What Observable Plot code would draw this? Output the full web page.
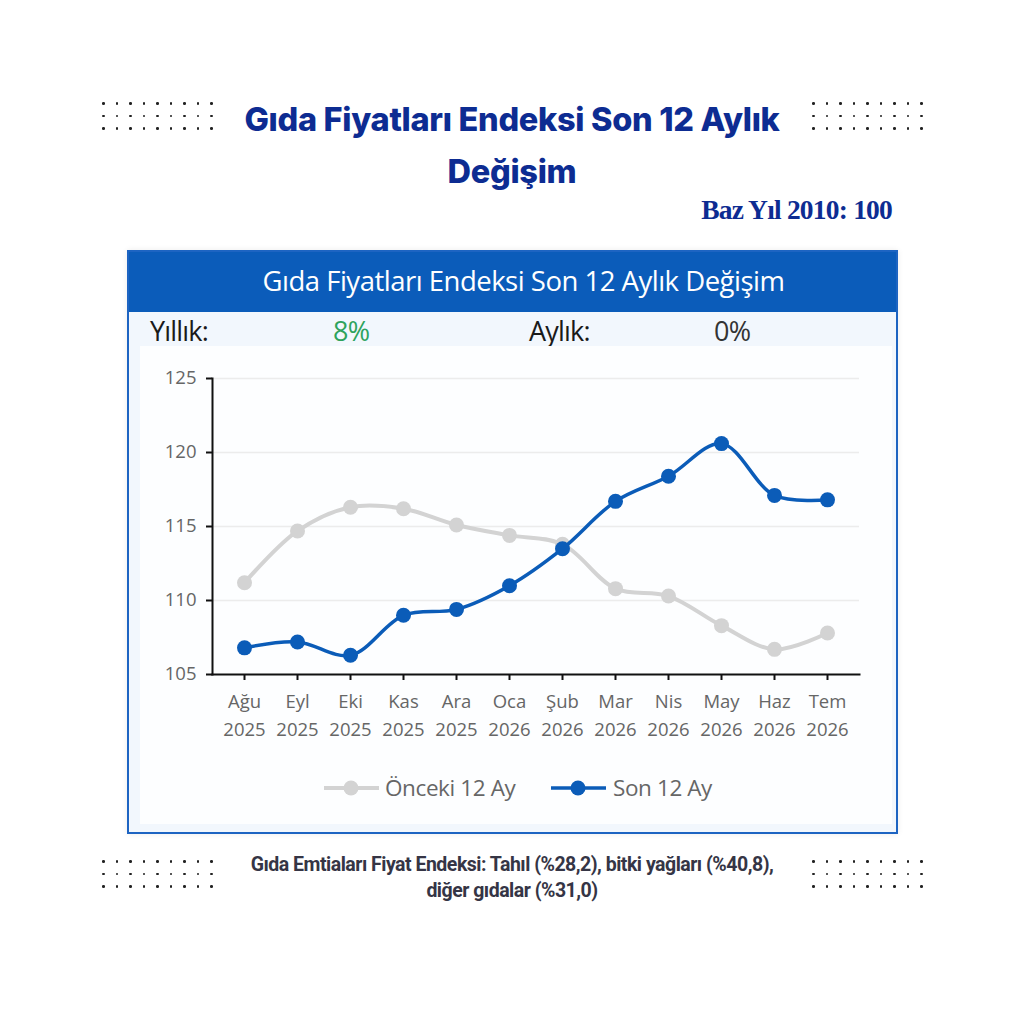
<!DOCTYPE html>
<html>
<head>
<meta charset="utf-8">
<script src="https://cdn.jsdelivr.net/npm/d3@7"></script>
<script src="https://cdn.jsdelivr.net/npm/@observablehq/plot@0.6"></script>
<style>
  html, body { margin: 0; padding: 0; background: #ffffff; }
  body { width: 1024px; height: 1024px; position: relative; overflow: hidden; font-family: "Open Sans", sans-serif; }
  .dots { position: absolute; display: grid; grid-template-columns: repeat(9, 13.5px); grid-auto-rows: 12.5px; }
  .dots span { width: 2.6px; height: 2.6px; background: #222; border-radius: 50%; display: block; }
  #title { position: absolute; left: 162px; width: 700px; top: 94px; text-align: center; font-family: Inter, Roboto, sans-serif; font-weight: 800; font-size: 32.5px; line-height: 52px; color: #0d2c92; letter-spacing: -0.3px; }
  #base { position: absolute; right: 132px; top: 194px; font-family: "Liberation Serif", serif; font-weight: 700; font-size: 27.5px; color: #0d2c92; letter-spacing: -0.8px; }
  #card { position: absolute; left: 127px; top: 250px; width: 767px; height: 580px; border: 2px solid #1d64c2; background: #f2f7fd; box-shadow: 0 0 6px rgba(0,0,0,0.08); }
  #head { position: absolute; left: 0; top: 0; width: 100%; height: 60px; background: #0b5cba; color: #fff; font-family: "Open Sans", sans-serif; font-size: 27.5px; line-height: 58px; text-align: center; letter-spacing: -0.5px; padding-left: 22px; box-sizing: border-box; }
  .kpi { position: absolute; top: 60px; font-family: "Open Sans", sans-serif; font-size: 27px; letter-spacing: -0.8px; }
  #plotwrap { position: absolute; left: 11px; top: 94px; width: 752px; height: 478px; background: #fdfeff; }
  #legend { position: absolute; left: 0; top: 515px; width: 100%; height: 40px; }
  #foot { position: absolute; left: 162px; width: 700px; top: 852px; text-align: center; font-family: Roboto, sans-serif; font-weight: 700; font-size: 19.5px; line-height: 26px; color: #353545; letter-spacing: -0.5px; }
</style>
</head>
<body>
<div class="dots" style="left:102px; top:102px;"></div>
<div class="dots" style="left:812px; top:102px;"></div>
<div class="dots" style="left:102px; top:860px;"></div>
<div class="dots" style="left:812px; top:860px;"></div>
<div id="title">Gıda Fiyatları Endeksi Son 12 Aylık<br>Değişim</div>
<div id="base">Baz Yıl 2010: 100</div>
<div id="card">
  <div id="head">Gıda Fiyatları Endeksi Son 12 Aylık Değişim</div>
  <div class="kpi" style="left:21px; color:#1a1a1a;">Yıllık:</div>
  <div class="kpi" style="left:204px; color:#2ea35c;">8%</div>
  <div class="kpi" style="left:400px; color:#1a1a1a;">Aylık:</div>
  <div class="kpi" style="left:585px; color:#333333;">0%</div>
  <div id="plotwrap"></div>
  <div id="legend"></div>
</div>
<div id="foot">Gıda Emtiaları Fiyat Endeksi: Tahıl (%28,2), bitki yağları (%40,8),<br>diğer gıdalar (%31,0)</div>
<script>
// ---- data ----
const months = ["Ağu", "Eyl", "Eki", "Kas", "Ara", "Oca", "Şub", "Mar", "Nis", "May", "Haz", "Tem"];
const years = ["2025", "2025", "2025", "2025", "2025", "2026", "2026", "2026", "2026", "2026", "2026", "2026"];
const previous12 = [111.2, 114.7, 116.3, 116.2, 115.1, 114.4, 113.8, 110.8, 110.3, 108.3, 106.7, 107.8];
const last12 = [106.8, 107.2, 106.3, 109.0, 109.4, 111.0, 113.5, 116.7, 118.4, 120.6, 117.1, 116.8];
const yTicks = [105, 110, 115, 120, 125];
const seriesNames = ["Önceki 12 Ay", "Son 12 Ay"];
const seriesColors = ["#d3d3d3", "#0b5cb8"];

// dots decoration
document.querySelectorAll(".dots").forEach(el => {
  for (let i = 0; i < 27; i++) el.appendChild(document.createElement("span"));
});

const labels = months.map((m, i) => m + "\n" + years[i]);
const prevData = labels.map((l, i) => ({label: l, value: previous12[i]}));
const lastData = labels.map((l, i) => ({label: l, value: last12[i]}));

const chart = Plot.plot({
  width: 752,
  height: 404,
  marginLeft: 72,
  marginRight: 33,
  marginTop: 32,
  marginBottom: 76,
  style: {background: "transparent", fontFamily: "'Open Sans', sans-serif", fontSize: "18.5px", color: "#666666"},
  x: {type: "point", domain: labels, padding: 0.5},
  y: {domain: [105, 125]},
  marks: [
    Plot.ruleY(yTicks.slice(1), {stroke: "#ececec", strokeWidth: 1.5}),
    Plot.frame({anchor: "left", stroke: "#111", strokeWidth: 2}),
    Plot.frame({anchor: "bottom", stroke: "#111", strokeWidth: 2}),
    Plot.axisY({ticks: yTicks, tickSize: 6, tickPadding: 10, stroke: "#111", strokeWidth: 2, fill: "#666", label: null}),
    Plot.axisX({tickSize: 6, tickPadding: 8, lineHeight: 1.5, stroke: "#111", strokeWidth: 2, fill: "#666", label: null}),
    Plot.line(prevData, {x: "label", y: "value", stroke: seriesColors[0], strokeWidth: 4, curve: "catmull-rom"}),
    Plot.dot(prevData, {x: "label", y: "value", r: 7.5, fill: seriesColors[0], stroke: "none"}),
    Plot.line(lastData, {x: "label", y: "value", stroke: seriesColors[1], strokeWidth: 3.5, curve: "catmull-rom"}),
    Plot.dot(lastData, {x: "label", y: "value", r: 7.5, fill: seriesColors[1], stroke: "none"})
  ]
});
document.getElementById("plotwrap").appendChild(chart);

// legend
const legend = d3.select("#legend").append("svg").attr("width", 767).attr("height", 40);
const items = [{x0: 195, tx: 256}, {x0: 422, tx: 484}];
items.forEach((it, i) => {
  const g = legend.append("g");
  g.append("line").attr("x1", it.x0).attr("x2", it.x0 + 55).attr("y1", 21).attr("y2", 21)
    .attr("stroke", seriesColors[i]).attr("stroke-width", i ? 3.5 : 4);
  g.append("circle").attr("cx", it.x0 + 27).attr("cy", 21).attr("r", 7.5).attr("fill", seriesColors[i]);
  g.append("text").attr("x", it.tx).attr("y", 29).text(seriesNames[i])
    .attr("font-family", "'Open Sans', sans-serif").attr("font-size", 22.5).attr("fill", "#666")
    .attr("letter-spacing", "-0.4");
});
</script>
</body>
</html>
